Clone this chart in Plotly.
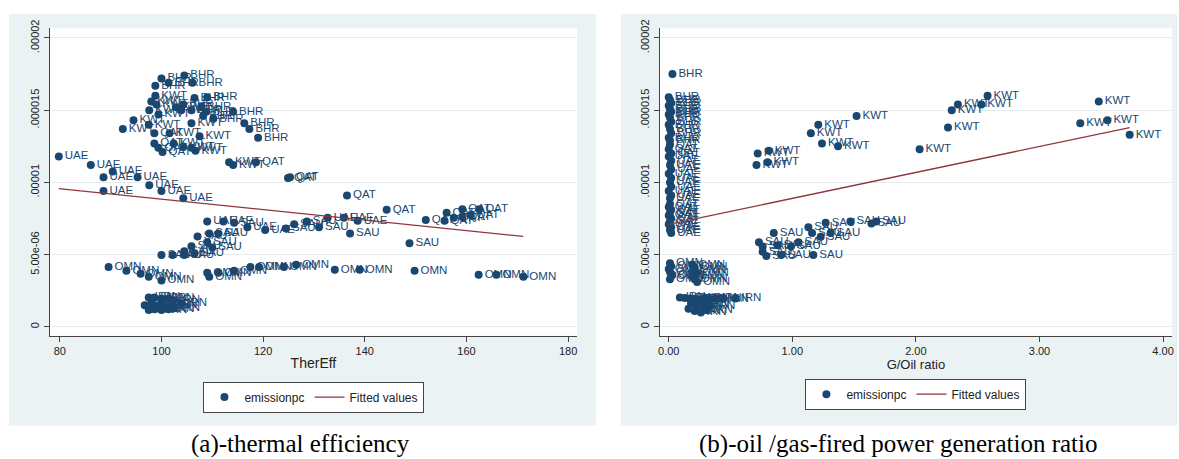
import plotly.graph_objects as go

NAVY = "#1A476F"
MAROON = "#90353B"
PANEL = "#EAF2F3"
GRID = "#E4ECEF"
AXC = "#444444"
SANS = "Liberation Sans, Arial, sans-serif"
SERIF = "Liberation Serif, Times New Roman, serif"

W, H = 1179, 459

# ---------------- Panel (a): TherEff vs emission per capita (y in 1e-6) -------------
a_BHR_x = [104.5, 100.0, 101.4, 106.1, 98.8, 109.0, 106.5, 104.3, 107.8, 105.9, 108.8, 114.1, 108.2, 110.2, 116.3, 117.3, 119.0]
a_BHR_y = [17.4, 17.2, 16.9, 16.9, 16.7, 15.9, 15.85, 15.4, 15.2, 15.0, 14.9, 14.9, 14.6, 14.4, 14.1, 13.7, 13.1]

a_KWT_x = [98.8, 98.0, 99.0, 102.9, 97.6, 103.9, 99.4, 94.5, 92.4, 97.5, 105.9, 101.6, 107.5, 102.4, 104.3, 105.9, 106.7, 113.3, 114.1]
a_KWT_y = [16.0, 15.6, 15.4, 15.2, 15.0, 15.0, 14.7, 14.3, 13.7, 14.0, 14.1, 13.4, 13.2, 12.7, 12.45, 12.4, 12.2, 11.4, 11.2]

a_QAT_x = [98.6, 98.6, 99.4, 100.2, 118.6, 124.9, 125.3, 136.5, 144.3, 152.0, 155.7, 156.1, 157.5, 159.2, 159.2, 162.5, 160.8]
a_QAT_y = [13.4, 12.7, 12.4, 12.1, 11.4, 10.3, 10.35, 9.1, 8.1, 7.4, 7.35, 7.9, 7.55, 8.15, 7.6, 8.15, 7.75]

a_UAE_x = [79.8, 86.1, 90.4, 88.6, 95.3, 97.6, 88.6, 100.0, 104.3, 109.0, 112.2, 116.9, 120.4, 132.7, 135.9, 138.6]
a_UAE_y = [11.8, 11.2, 10.75, 10.35, 10.35, 9.8, 9.4, 9.4, 8.9, 7.3, 7.3, 6.9, 6.7, 7.55, 7.55, 7.35]

a_SAU_x = [114.3, 109.4, 111.2, 107.1, 109.0, 105.9, 110.0, 104.5, 106.5, 100.0, 102.2, 104.5, 124.5, 126.1, 128.6, 131.0, 137.1, 148.8]
a_SAU_y = [7.2, 6.46, 6.46, 6.26, 5.85, 5.58, 5.5, 5.24, 5.1, 4.97, 4.97, 4.97, 6.8, 7.1, 7.3, 6.9, 6.46, 5.78]

a_OMN_x = [89.6, 93.1, 95.9, 97.5, 100.0, 109.0, 109.4, 111.2, 114.3, 117.5, 119.2, 124.1, 126.5, 134.1, 139.0, 149.8, 162.4, 165.9, 171.2]
a_OMN_y = [4.15, 3.88, 3.67, 3.47, 3.2, 3.74, 3.47, 3.74, 3.88, 4.15, 4.15, 4.15, 4.3, 3.95, 3.95, 3.88, 3.6, 3.6, 3.47]

a_IRN_x = [97.5, 98.6, 100.0, 101.4, 102.5, 96.7, 98.0, 99.4, 100.6, 102.0, 97.5, 98.6, 100.0, 101.4, 102.5, 103.9]
a_IRN_y = [2.04, 2.04, 1.97, 1.97, 1.84, 1.5, 1.63, 1.5, 1.5, 1.5, 1.16, 1.22, 1.16, 1.22, 1.29, 1.63]

fit_a_x = [79.8, 171.2]
fit_a_y = [9.57, 6.26]

# ---------------- Panel (b): G/Oil ratio vs emission per capita (y in 1e-6) ----------
b_BHR_x = [0.03, 0.0, 0.01, 0.02, 0.0, 0.01, 0.02, 0.0, 0.01, 0.02, 0.0, 0.01, 0.02, 0.0, 0.01]
b_BHR_y = [17.5, 15.9, 15.7, 15.5, 15.3, 15.1, 14.9, 14.7, 14.5, 14.2, 14.0, 13.7, 13.4, 13.1, 12.9]

b_QAT_x = [0.01, 0.0, 0.02, 0.01, 0.0, 0.02, 0.01, 0.0, 0.02, 0.01]
b_QAT_y = [12.6, 12.3, 12.0, 8.5, 8.3, 8.1, 7.9, 7.7, 7.5, 7.3]

b_UAE_x = [0.0, 0.02, 0.01, 0.02, 0.0, 0.02, 0.01, 0.02, 0.0, 0.02, 0.01, 0.0, 0.02, 0.01, 0.02]
b_UAE_y = [11.8, 11.5, 11.2, 10.9, 10.6, 10.3, 10.0, 9.7, 9.4, 9.1, 8.9, 7.1, 6.9, 6.7, 6.5]

b_KWT_x = [2.58, 3.48, 2.34, 2.53, 2.29, 1.52, 3.55, 3.33, 1.21, 2.26, 1.15, 3.73, 1.24, 1.37, 2.03, 0.81, 0.72, 0.80, 0.71]
b_KWT_y = [16.0, 15.6, 15.4, 15.4, 15.0, 14.6, 14.3, 14.1, 14.0, 13.8, 13.4, 13.3, 12.7, 12.5, 12.3, 12.2, 12.0, 11.4, 11.2]

b_SAU_x = [1.47, 1.68, 1.27, 1.64, 1.13, 0.85, 1.16, 1.31, 1.23, 0.73, 1.05, 0.88, 0.99, 0.76, 0.76, 0.91, 1.17, 0.79]
b_SAU_y = [7.3, 7.3, 7.2, 7.15, 6.9, 6.5, 6.5, 6.5, 6.24, 5.85, 5.85, 5.65, 5.58, 5.56, 5.2, 4.97, 4.97, 4.9]

b_OMN_x = [0.01, 0.02, 0.0, 0.01, 0.03, 0.02, 0.01, 0.19, 0.21, 0.2, 0.22, 0.19, 0.21, 0.23]
b_OMN_y = [4.4, 4.2, 4.0, 3.8, 3.6, 3.5, 3.3, 4.3, 4.1, 3.9, 3.7, 3.5, 3.3, 3.1]

b_IRN_x = [0.09, 0.13, 0.17, 0.21, 0.25, 0.29, 0.33, 0.38, 0.44, 0.54, 0.18, 0.23, 0.28, 0.33, 0.16, 0.21, 0.26, 0.31]
b_IRN_y = [2.04, 2.0, 1.97, 1.95, 1.9, 1.97, 1.92, 1.97, 1.95, 1.97, 1.6, 1.5, 1.55, 1.45, 1.25, 1.1, 1.0, 1.15]

fit_b_x = [0.0, 3.73]
fit_b_y = [7.1, 13.8]

countries = ["BHR", "KWT", "QAT", "UAE", "SAU", "OMN", "IRN"]

y_tickvals = [0, 5e-6, 1e-5, 1.5e-5, 2e-5]
y_ticktext = ["0", "5.00e-06", ".00001", ".000015", ".00002"]
xa_ticks = [80, 100, 120, 140, 160, 180]
xb_ticks = [0, 1, 2, 3, 4]
xb_ticktext = ["0.00", "1.00", "2.00", "3.00", "4.00"]

SCALE = 1e-6

def gather(prefix):
    g = globals()
    xs, ys, ts = [], [], []
    for c in countries:
        xv = g[f"{prefix}_{c}_x"]
        yv = g[f"{prefix}_{c}_y"]
        xs += xv
        ys += [v * SCALE for v in yv]
        ts += [c] * len(xv)
    return xs, ys, ts

fig = go.Figure()

for prefix, xa, ya, lg in [("a", "x", "y", "legend"), ("b", "x2", "y2", "legend2")]:
    xs, ys, ts = gather(prefix)
    fig.add_trace(go.Scatter(
        x=xs, y=ys, text=ts, mode="markers+text", textposition="middle right",
        marker=dict(size=8, color=NAVY, line=dict(width=0)),
        textfont=dict(family=SANS, size=11.5, color=NAVY),
        showlegend=False, xaxis=xa, yaxis=ya, cliponaxis=False, hoverinfo="skip"))
    fig.add_trace(go.Scatter(
        x=[None], y=[None], mode="markers", name="emissionpc",
        marker=dict(size=8, color=NAVY), xaxis=xa, yaxis=ya, legend=lg))
    fx = globals()[f"fit_{prefix}_x"]
    fy = [v * SCALE for v in globals()[f"fit_{prefix}_y"]]
    fig.add_trace(go.Scatter(
        x=fx, y=fy, mode="lines", name="Fitted values",
        line=dict(color=MAROON, width=1.3), xaxis=xa, yaxis=ya, legend=lg))

def px_x(p):
    return p / W

def px_y(p):
    return 1 - p / H

A_dom_x = [px_x(48), px_x(577)]
B_dom_x = [px_x(660), px_x(1174)]
dom_y = [px_y(333.5), px_y(20.5)]

y_range = [-0.612e-6, 20.68e-6]

common_x = dict(showline=True, linecolor=AXC, linewidth=1, ticks="outside", ticklen=5,
                tickcolor=AXC, showgrid=False, zeroline=False,
                tickfont=dict(family=SANS, size=11, color="#222"))
common_y = dict(showline=True, linecolor=AXC, linewidth=1, ticks="outside", ticklen=5,
                tickcolor=AXC, showgrid=True, gridcolor=GRID, gridwidth=1, zeroline=False,
                tickvals=y_tickvals, ticktext=y_ticktext, tickangle=-90, range=y_range,
                tickfont=dict(family=SANS, size=11, color="#222"))

fig.update_layout(
    width=W, height=H, margin=dict(l=0, r=0, t=0, b=0),
    paper_bgcolor="white", plot_bgcolor="rgba(0,0,0,0)",
    xaxis=dict(domain=A_dom_x, anchor="y", range=[78.04, 181.76], tickvals=xa_ticks,
               title=dict(text="TherEff", font=dict(family=SANS, size=14, color="#222"), standoff=2),
               **common_x),
    yaxis=dict(domain=dom_y, anchor="x", **common_y),
    xaxis2=dict(domain=B_dom_x, anchor="y2", range=[-0.0726, 4.0726], tickvals=xb_ticks,
                ticktext=xb_ticktext,
                title=dict(text="G/Oil ratio", font=dict(family=SANS, size=13, color="#222"), standoff=2),
                **common_x),
    yaxis2=dict(domain=dom_y, anchor="x2", **common_y),
    legend=dict(x=px_x(313), y=px_y(396), xanchor="center", yanchor="middle",
                orientation="h", bgcolor="white", bordercolor=AXC, borderwidth=1,
                font=dict(family=SANS, size=12, color="#222")),
    legend2=dict(x=px_x(917), y=px_y(393), xanchor="center", yanchor="middle",
                 orientation="h", bgcolor="white", bordercolor=AXC, borderwidth=1,
                 font=dict(family=SANS, size=12, color="#222")),
    shapes=[
        dict(type="rect", xref="paper", yref="paper", x0=px_x(7), x1=px_x(596),
             y0=px_y(425), y1=px_y(6), fillcolor=PANEL, line=dict(width=0), layer="below"),
        dict(type="rect", xref="paper", yref="paper", x0=px_x(621), x1=1.0,
             y0=px_y(425), y1=px_y(6), fillcolor=PANEL, line=dict(width=0), layer="below"),
        dict(type="rect", xref="paper", yref="paper", x0=A_dom_x[0], x1=A_dom_x[1],
             y0=dom_y[0], y1=dom_y[1], fillcolor="white", line=dict(width=0), layer="below"),
        dict(type="rect", xref="paper", yref="paper", x0=B_dom_x[0], x1=B_dom_x[1],
             y0=dom_y[0], y1=dom_y[1], fillcolor="white", line=dict(width=0), layer="below"),
    ],
    annotations=[
        dict(text="(a)-thermal efficiency", xref="paper", yref="paper", x=px_x(300), y=px_y(444),
             xanchor="center", yanchor="middle", showarrow=False,
             font=dict(family=SERIF, size=25, color="black")),
        dict(text="(b)-oil /gas-fired power generation ratio", xref="paper", yref="paper",
             x=px_x(899), y=px_y(444), xanchor="center", yanchor="middle", showarrow=False,
             font=dict(family=SERIF, size=25, color="black")),
    ],
)

fig.write_html(
    "out.html",
    config={"displayModeBar": False},
    post_script="document.body.style.margin='0';document.body.style.padding='0';"
                "document.body.style.overflow='hidden';"
                "document.documentElement.style.overflow='hidden';",
)
